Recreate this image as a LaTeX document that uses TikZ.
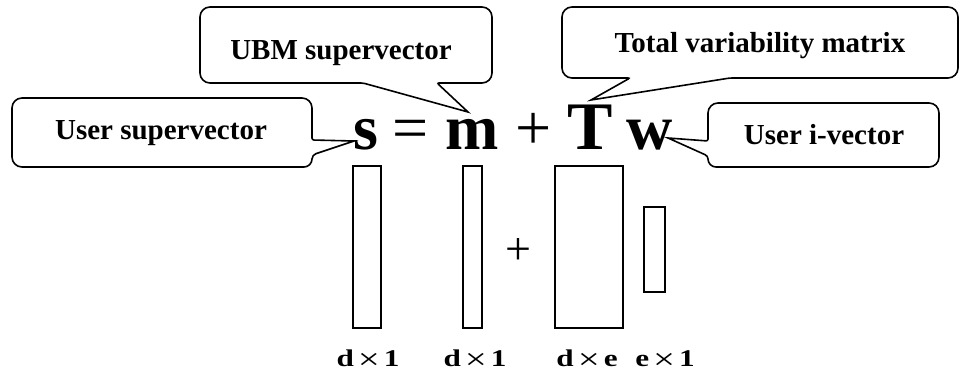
\documentclass[tikz,border=0pt]{standalone}
\usepackage{fontspec}
\setmainfont{Liberation Serif}
\newfontfamily\dimfont[FakeStretch=1.3]{Liberation Serif}
\usetikzlibrary{positioning}
\tikzset{
  callout/.style={draw, line width=1.6pt, line join=miter},
  lbl/.style={font=\fontsize{29}{32}\selectfont\bfseries, inner sep=0pt, anchor=base},
  sym/.style={font=\fontsize{64}{70}\selectfont\bfseries, inner sep=0pt, anchor=base},
  op/.style={font=\fontsize{64}{70}\selectfont, inner sep=0pt, anchor=base},
  blk/.style={draw, line width=1.8pt, inner sep=0pt},
  dims/.style={font=\dimfont\fontsize{24}{26}\selectfont\bfseries, inner sep=0pt, anchor=base},
}
\newcommand{\tms}{\,\raisebox{-3pt}{\fontsize{30}{30}\selectfont\mdseries ×}\,}
\begin{document}
\begin{tikzpicture}[x=1pt,y=-1pt]
  \useasboundingbox (0,0) rectangle (960,374);
  % equation
  \node[sym] (s) at (366,150) {s};
  \node[op] (eq) at (411,150) {=};
  \node[sym] (m) at (472,150) {m};
  \node[op] (pl) at (534,150) {+};
  \node[sym, font=\fontsize{68}{72}\selectfont\bfseries] (T) at (590,150) {T};
  \node[sym] (w) at (650,150) {w};
  % callout texts
  \node[lbl] (usr) at (161,140) {User supervector};
  \node[lbl] (ubm) at (341,60) {UBM supervector};
  \node[lbl] (tvm) at (760,53) {Total variability matrix};
  \node[lbl] (ivec) at (824,145) {User i-vector};
  % pointer tips
  \coordinate (tipS) at (354,141);
  \coordinate (tipM) at (468,112);
  \coordinate (tipT) at (591,100);
  \coordinate (tipW) at (668,138);
  % callouts
  \draw[callout] (12,130) [rounded corners=10pt] -- (12,98) -- (312,98) [rounded corners=2pt] -- (312,140)
    [sharp corners] -- (tipS) [rounded corners=4pt] -- (312,155) [rounded corners=8pt] -- (312,167)
    [rounded corners=10pt] -- (12,167) -- cycle;
  \draw[callout] (346,7) [rounded corners=10pt] -- (492,7) -- (492,83) [rounded corners=2pt] -- (437,83)
    [sharp corners] -- (tipM) [rounded corners=2pt] -- (363,83) [rounded corners=10pt] -- (200,83) -- (200,7) -- cycle;
  \draw[callout] (760,7) [rounded corners=10pt] -- (958,7) -- (958,78) [rounded corners=2pt] -- (730,78)
    [sharp corners] -- (tipT) [rounded corners=2pt] -- (630,78) [rounded corners=10pt] -- (562,78) -- (562,7) -- cycle;
  \draw[callout] (824,103) [rounded corners=10pt] -- (939,103) -- (939,167) [rounded corners=8pt] -- (708,167)
    [rounded corners=3pt] -- (708,156) [sharp corners] -- (tipW) [rounded corners=2pt] -- (708,141)
    [rounded corners=10pt] -- (708,103) -- cycle;
  % blocks
  \foreach \n/\x/\y/\w/\h in {vs/367/247/28/162, vm/472.5/247/19/162, mT/589/247/68/162, vw/654.5/249.5/21/85}
    \node[blk, minimum width=\w pt, minimum height=\h pt] (\n) at (\x,\y) {};
  \node[op, font=\fontsize{46}{50}\selectfont, anchor=center] (plb) at (518,252) {+};
  % sizes
  \foreach \n/\x/\t in {dvs/368/d\tms1, dvm/475/d\tms1, dmT/587/d\tms e, dvw/665/e\tms1}
    \node[dims] (\n) at (\x,366) {\t};
\end{tikzpicture}
\end{document}
